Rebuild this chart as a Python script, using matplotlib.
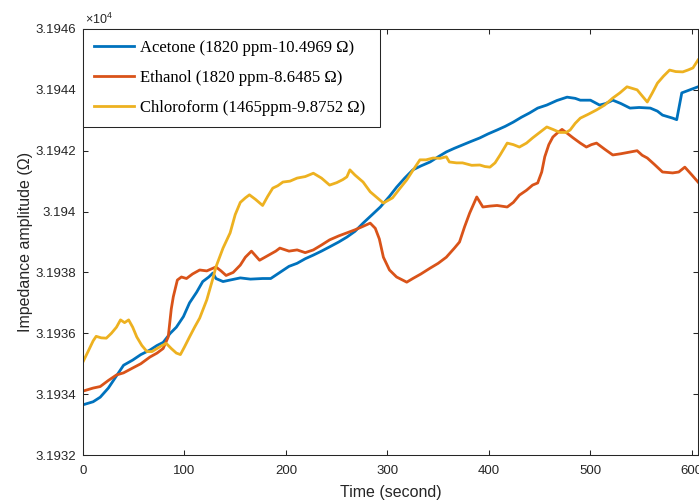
#!/usr/bin/env python3
"""
Impedance amplitude of the sensor vs. time for three vapours.
"""

import matplotlib

matplotlib.use("Agg")
import matplotlib.pyplot as plt
from matplotlib.ticker import FuncFormatter

# impedance values are stored as (ohm - 31900)
BASE = 31900.0

t_acetone = [0, 5, 10, 17, 25, 33, 40, 49, 57, 66, 73, 79, 86, 92, 99, 105, 112, 118,
             124, 128, 131, 138, 145, 155, 165, 177, 185, 194, 203, 211, 219, 227, 235,
             243, 252, 260, 268, 276, 285, 293, 302, 309, 317, 325, 333, 342, 350, 358,
             366, 374, 382, 391, 399, 408, 416, 424, 432, 440, 448, 457, 467, 477, 485,
             490, 500, 509, 515, 522, 530, 539, 548, 559, 566, 571, 581, 585, 590, 598, 606]
z_acetone = [33.65, 33.7, 33.75, 33.9, 34.2, 34.6, 34.95, 35.12, 35.3, 35.45, 35.6, 35.7,
             36.0, 36.2, 36.55, 37.0, 37.35, 37.7, 37.85, 37.98, 37.8, 37.7, 37.75, 37.82,
             37.78, 37.8, 37.8, 38.0, 38.2, 38.3, 38.45, 38.57, 38.7, 38.84, 39.0, 39.16,
             39.35, 39.62, 39.9, 40.15, 40.5, 40.8, 41.1, 41.37, 41.5, 41.63, 41.8, 41.96,
             42.08, 42.19, 42.3, 42.42, 42.55, 42.68, 42.8, 42.94, 43.1, 43.24, 43.4, 43.5,
             43.65, 43.76, 43.72, 43.66, 43.66, 43.5, 43.55, 43.66, 43.55, 43.4, 43.42,
             43.4, 43.3, 43.17, 43.07, 43.02, 43.9, 44.0, 44.1]

t_ethanol = [0, 5, 10, 17, 25, 33, 40, 49, 57, 66, 73, 79, 84, 87, 89, 93, 97, 102, 108,
             115, 122, 131, 136, 141, 148, 155, 160, 166, 170, 174, 182, 190, 194, 203, 211,
             219, 227, 235, 243, 252, 260, 268, 275, 283, 288, 292, 296, 302, 309, 319, 325,
             333, 342, 350, 358, 366, 371, 376, 381, 388, 394, 401, 408, 418, 424, 430, 437,
             443, 448, 452, 455, 459, 463, 468, 472, 478, 483, 490, 496, 501, 506, 514, 522,
             530, 538, 546, 551, 556, 563, 571, 581, 587, 593, 600, 606]
z_ethanol = [34.1, 34.15, 34.2, 34.25, 34.45, 34.63, 34.7, 34.86, 35.0, 35.22, 35.35, 35.5,
             35.88, 36.8, 37.2, 37.75, 37.85, 37.8, 37.95, 38.08, 38.05, 38.18, 38.05, 37.9,
             38.0, 38.24, 38.5, 38.7, 38.55, 38.4, 38.55, 38.7, 38.8, 38.7, 38.74, 38.65,
             38.74, 38.9, 39.07, 39.2, 39.3, 39.4, 39.5, 39.62, 39.45, 39.1, 38.5, 38.08,
             37.85, 37.68, 37.8, 37.95, 38.14, 38.3, 38.5, 38.8, 39.0, 39.5, 39.95, 40.48,
             40.15, 40.18, 40.2, 40.15, 40.3, 40.54, 40.7, 40.87, 40.94, 41.3, 41.8, 42.2,
             42.45, 42.6, 42.7, 42.55, 42.42, 42.25, 42.12, 42.2, 42.25, 42.05, 41.86, 41.9,
             41.95, 42.0, 41.85, 41.76, 41.55, 41.3, 41.27, 41.3, 41.46, 41.2, 40.97]

t_chloro = [0, 5, 10, 13, 18, 23, 28, 33, 37, 41, 45, 49, 53, 58, 63, 68, 73, 78, 82, 87,
            92, 96, 100, 105, 110, 115, 122, 128, 131, 138, 145, 150, 155, 160, 164, 170,
            177, 182, 187, 192, 197, 204, 211, 219, 227, 235, 243, 250, 256, 260, 263, 268,
            276, 283, 290, 296, 305, 312, 319, 325, 332, 338, 345, 352, 358, 361, 368, 374,
            383, 391, 396, 401, 406, 411, 418, 424, 430, 437, 443, 450, 457, 463, 470, 476,
            480, 485, 490, 498, 506, 514, 522, 529, 536, 541, 546, 551, 556, 561, 566, 572,
            578, 584, 591, 596, 601, 606]
z_chloro = [35.06, 35.4, 35.75, 35.9, 35.85, 35.84, 36.0, 36.2, 36.44, 36.35, 36.44, 36.2,
            35.88, 35.6, 35.4, 35.4, 35.5, 35.6, 35.67, 35.5, 35.35, 35.3, 35.55, 35.88,
            36.2, 36.5, 37.1, 37.8, 38.18, 38.8, 39.3, 39.9, 40.3, 40.45, 40.55, 40.4, 40.2,
            40.5, 40.77, 40.85, 40.97, 41.0, 41.1, 41.15, 41.26, 41.1, 40.87, 40.95, 41.05,
            41.14, 41.37, 41.2, 40.97, 40.65, 40.45, 40.28, 40.45, 40.75, 41.04, 41.35, 41.7,
            41.7, 41.76, 41.75, 41.8, 41.63, 41.6, 41.6, 41.52, 41.53, 41.48, 41.46, 41.6,
            41.86, 42.25, 42.2, 42.12, 42.25, 42.42, 42.6, 42.78, 42.7, 42.6, 42.6, 42.68,
            42.9, 43.07, 43.2, 43.34, 43.5, 43.73, 43.9, 44.1, 44.05, 44.0, 43.8, 43.6, 43.9,
            44.22, 44.45, 44.65, 44.6, 44.59, 44.65, 44.72, 44.98]

labels = ["Acetone (1820 ppm-10.4969 \u03a9)",
          "Ethanol (1820 ppm-8.6485 \u03a9)",
          "Chloroform (1465ppm-9.8752 \u03a9)"]
colors = ["#0072BD", "#D95319", "#EDB120"]

x_ticks = [0, 100, 200, 300, 400, 500, 600]
y_ticks = [3.1932, 3.1934, 3.1936, 3.1938, 3.1940, 3.1942, 3.1944, 3.1946]

AXCOL = "#262626"


def scaled(z):
    return [(BASE + v) / 1e4 for v in z]


def main():
    plt.rcParams["font.family"] = ["Liberation Sans", "DejaVu Sans"]
    plt.rcParams["mathtext.fontset"] = "custom"
    plt.rcParams["mathtext.rm"] = "Liberation Sans"

    fg = plt.figure(figsize=(6.99, 5.04), dpi=100)
    ax = fg.add_axes([0.1187, 0.0972, 0.8799, 0.8453])

    series = [(t_acetone, z_acetone), (t_ethanol, z_ethanol), (t_chloro, z_chloro)]
    for (t, z), lab, c in zip(series, labels, colors):
        ax.plot(t, scaled(z), color=c, lw=2.0, label=lab)

    ax.set_xlim(0, 606)
    ax.set_ylim(3.1932, 3.1946)
    ax.set_xticks(x_ticks)
    ax.set_yticks(y_ticks)
    ax.yaxis.set_major_formatter(FuncFormatter(lambda v, p: "{:g}".format(round(v, 4))))

    ax.tick_params(direction="in", top=True, right=True, length=3.6, width=0.75,
                   colors=AXCOL, labelsize=9.5, pad=5)
    ax.tick_params(axis="x", pad=7)
    for s in ax.spines.values():
        s.set_color(AXCOL)
        s.set_linewidth(0.75)

    ax.set_xlabel("Time (second)", fontsize=11.5, color=AXCOL, labelpad=6)
    ax.set_ylabel("Impedance amplitude (\u03a9)", fontsize=11.5, color=AXCOL, labelpad=2)
    ax.text(0.003, 1.004, r"$\times10^{4}$", transform=ax.transAxes, fontsize=9,
            color=AXCOL, ha="left", va="bottom")

    leg = ax.legend(loc="upper left", bbox_to_anchor=(0, 1, 0.483, 0), mode="expand",
                    borderaxespad=0, fancybox=False, framealpha=1, edgecolor=AXCOL,
                    prop={"family": "Liberation Serif", "size": 12},
                    handlelength=2.4, handletextpad=0.35, borderpad=0.65,
                    labelspacing=0.85)
    leg.get_frame().set_linewidth(0.75)

    fg.savefig("out.png", dpi=100)


if __name__ == "__main__":
    main()
